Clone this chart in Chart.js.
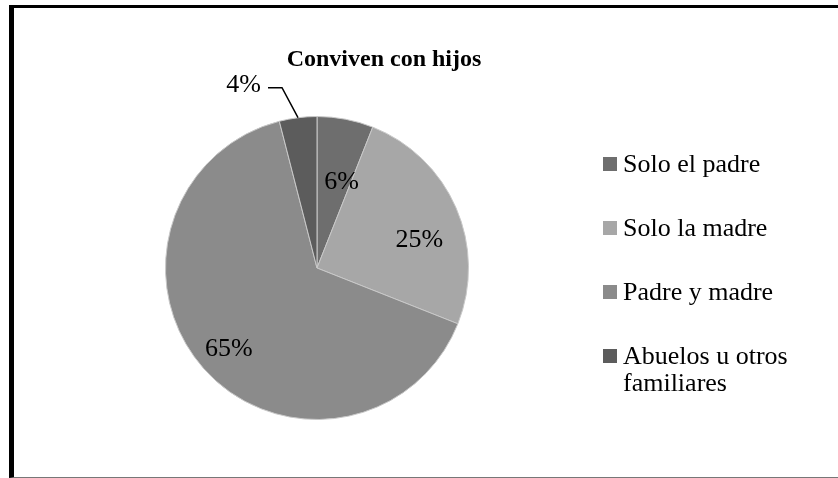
<!DOCTYPE html>
<html>
<head>
<meta charset="utf-8">
<script src="https://cdn.jsdelivr.net/npm/chart.js@4.4.0/dist/chart.umd.min.js"></script>
<style>
    html, body { margin: 0; padding: 0; background: #fff; }
    body { width: 838px; height: 478px; position: relative; overflow: hidden; }
    #frame {
        position: absolute; left: 9px; top: 5px; width: 829px; height: 469px;
        border-top: 3px solid #000; border-left: 5px solid #000; border-bottom: 1px solid #777;
        box-sizing: content-box;
    }
    #pie { position: absolute; left: 0; top: 0; }
    #legend { position: absolute; left: 603px; top: 150px; font-family: "Liberation Serif", "Times New Roman", serif; font-size: 26px; color: #000; }
    .item { position: absolute; left: 0; width: 230px; line-height: 27px; }
    .box { position: absolute; left: 0; top: 7px; width: 14px; height: 14px; }
    .txt { margin-left: 20px; width: 200px; }
</style>
</head>
<body>
<div id="frame"></div>
<canvas id="pie" width="838" height="478"></canvas>
<div id="legend"></div>
<script>
// Données du graphique
const categories = ['Solo el padre', 'Solo la madre', 'Padre y madre', 'Abuelos u otros familiares'];
const values = [6, 25, 65, 4];
const sliceColors = ['#6e6e6e', '#a7a7a7', '#8b8b8b', '#5c5c5c'];
const chartTitle = 'Conviven con hijos';

// Légende HTML à droite
const legend = document.getElementById('legend');
categories.forEach((cat, i) => {
    const item = document.createElement('div');
    item.className = 'item';
    item.style.top = (i * 64) + 'px';
    item.innerHTML = '<span class="box" style="background:' + sliceColors[i] + '"></span><div class="txt">' + cat + '</div>';
    legend.appendChild(item);
});

// Étiquettes en pourcentage + titre
const labelPlugin = {
    id: 'pctLabels',
    afterDatasetsDraw(chart) {
        const ctx = chart.ctx;
        const meta = chart.getDatasetMeta(0);
        const radial = [0.59, 0.7, 0.79];
        const shift = [0.09, 0.14, -0.02];
        ctx.save();
        ctx.font = '26px "Liberation Serif", serif';
        ctx.fillStyle = '#000';
        ctx.textBaseline = 'middle';
        meta.data.forEach((arc, i) => {
            const p = arc.getProps(['x', 'y', 'startAngle', 'endAngle', 'outerRadius'], true);
            const mid = (p.startAngle + p.endAngle) / 2;
            const txt = values[i] + '%';
            if (i < radial.length) {
                const a = mid + shift[i];
                ctx.textAlign = 'center';
                ctx.fillText(txt, p.x + Math.cos(a) * p.outerRadius * radial[i], p.y + Math.sin(a) * p.outerRadius * radial[i]);
            } else {
                // ligne de rappel pour la petite part
                const ex = p.x + Math.cos(mid) * p.outerRadius;
                const ey = p.y + Math.sin(mid) * p.outerRadius;
                const kx = ex - 16, ky = ey - 30;
                ctx.strokeStyle = '#000';
                ctx.lineWidth = 1.5;
                ctx.beginPath();
                ctx.moveTo(ex, ey);
                ctx.lineTo(kx, ky);
                ctx.lineTo(kx - 14, ky);
                ctx.stroke();
                ctx.textAlign = 'right';
                ctx.fillText(txt, kx - 21, ky - 3);
            }
        });
        ctx.font = 'bold 24px "Liberation Serif", serif';
        ctx.textAlign = 'center';
        ctx.fillText(chartTitle, 384, 60);
        ctx.restore();
    }
};

const ctx = document.getElementById('pie').getContext('2d');
new Chart(ctx, {
    type: 'pie',
    data: {
        labels: categories,
        datasets: [{
            data: values,
            backgroundColor: sliceColors,
            borderColor: '#c8c8c8',
            borderWidth: 1
        }]
    },
    options: {
        responsive: false,
        animation: false,
        layout: { padding: { top: 116, bottom: 58, left: 165, right: 369 } },
        plugins: {
            legend: { display: false },
            tooltip: { enabled: false }
        }
    },
    plugins: [labelPlugin]
});
</script>
</body>
</html>
